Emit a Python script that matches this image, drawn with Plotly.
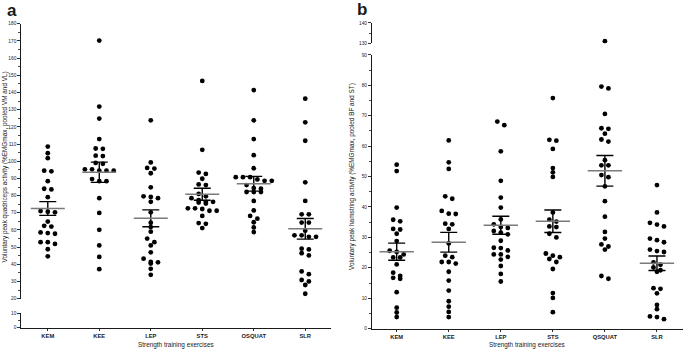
import plotly.graph_objects as go

# ---------------- data ----------------
categories_a = ["KEM", "KEE", "LEP", "STS", "OSQUAT", "SLR"]
categories_b = ["KEM", "KEE", "LEP", "STS", "QSQUAT", "SLR"]

# Panel a: voluntary peak quadriceps activity (%EMGmax)
quad_kem = [108.5, 104.7, 101.8, 94.1, 94.5, 88.4, 83.6, 84.0, 79.1, 70.3, 71.0, 70.6,
            64.9, 62.0, 62.4, 57.8, 58.6, 58.2, 51.9, 52.9, 52.9, 48.8, 44.7]
quad_kee = [170.2, 131.8, 124.8, 112.9, 107.2, 107.4, 103.0, 103.2, 98.5, 99.0, 94.5, 95.3,
            94.5, 95.3, 94.5, 89.6, 88.4, 88.4, 78.5, 69.9, 60.1, 51.0, 44.3, 37.2]
quad_lep = [123.8, 99.3, 95.7, 96.1, 93.0, 84.8, 78.5, 79.6, 79.2, 76.4, 70.3, 64.2,
            61.7, 59.0, 55.0, 52.9, 51.0, 47.0, 40.5, 41.4, 43.3, 41.2, 37.4, 33.9]
quad_sts = [146.7, 106.6, 92.6, 93.4, 89.8, 86.1, 86.5, 81.0, 79.6, 78.5, 77.3, 76.4,
            76.4, 75.4, 76.0, 72.2, 72.6, 72.6, 71.2, 71.2, 68.2, 64.0, 63.6, 61.1]
quad_osquat = [141.4, 123.8, 112.9, 103.5, 95.9, 88.6, 90.7, 89.4, 90.7, 88.6, 90.7, 86.1,
               84.0, 84.4, 82.1, 82.1, 82.1, 76.9, 71.4, 66.6, 68.2, 64.5, 61.5, 58.8]
quad_slr = [136.4, 122.6, 111.9, 87.7, 76.9, 69.1, 69.1, 64.3, 64.3, 59.6, 56.9, 56.9,
            56.0, 56.0, 48.7, 49.1, 45.2, 46.5, 34.3, 35.9, 30.1, 30.9, 28.0, 22.9]
quad_mean = [72.5, 93.6, 66.8, 80.8, 86.9, 60.7]
quad_sem = [4.0, 5.9, 4.9, 3.5, 4.3, 6.0]

# Panel b: voluntary peak hamstring activity (%EMGmax)
ham_kem = [53.9, 51.8, 39.8, 35.3, 35.8, 32.6, 32.8, 31.2, 28.8, 25.2, 25.6, 24.4,
           23.4, 23.4, 21.1, 16.4, 17.3, 18.4, 16.7, 12.0, 6.9, 5.3, 3.8]
ham_kee = [61.9, 54.7, 52.5, 42.7, 43.5, 38.7, 37.7, 37.8, 34.3, 34.5, 32.8, 28.0,
           23.5, 24.0, 21.4, 21.9, 21.9, 18.7, 15.8, 12.5, 9.0, 7.2, 5.5, 3.8]
ham_lep = [68.1, 66.9, 58.3, 48.6, 43.1, 39.8, 35.9, 34.3, 33.4, 33.1, 31.0, 31.6,
           32.1, 28.9, 26.6, 26.5, 25.7, 24.4, 24.4, 23.6, 22.7, 20.6, 18.0, 15.5]
ham_sts = [75.8, 61.8, 62.1, 59.1, 52.8, 51.4, 49.9, 38.2, 35.8, 35.2, 33.4, 33.6,
           30.0, 31.2, 24.7, 22.9, 24.0, 23.5, 21.9, 19.6, 11.7, 10.1, 5.4]
ham_qsquat = [131.1, 79.0, 79.6, 70.6, 65.7, 65.9, 64.1, 61.5, 62.2, 55.4, 53.7, 53.7,
              49.8, 50.5, 46.8, 41.9, 36.8, 31.8, 29.6, 27.7, 27.0, 26.0, 16.4, 17.3]
ham_slr = [47.2, 38.2, 34.8, 33.6, 34.2, 29.6, 28.4, 29.1, 25.2, 26.0, 25.5, 21.8,
           21.0, 20.1, 18.7, 19.2, 13.1, 13.3, 11.6, 7.8, 6.4, 3.1, 4.0, 3.8]
ham_mean = [25.3, 28.4, 34.0, 35.3, 51.9, 21.5]
ham_sem = [2.8, 3.25, 2.95, 3.7, 5.05, 2.4]

quad_groups = [quad_kem, quad_kee, quad_lep, quad_sts, quad_osquat, quad_slr]
ham_groups = [ham_kem, ham_kee, ham_lep, ham_sts, ham_qsquat, ham_slr]

# ---------------- layout helpers ----------------
W, H = 685, 354
FONT = "Liberation Sans, Arial, sans-serif"
AX = "#1a1a1a"


def fx(px):
    return px / W


def fy(py):
    return (H - py) / H


def swarm(values, px_per_unit, step_units, thresh_px=4.0):
    """Prism-like row layout: points closer than thresh_px vertically share a row."""
    order = sorted(range(len(values)), key=lambda k: -values[k])
    offsets = [0.0] * len(values)
    rows, cur = [], []
    for k in order:
        if cur and (values[cur[0]] - values[k]) * px_per_unit >= thresh_px:
            rows.append(cur)
            cur = []
        cur.append(k)
    if cur:
        rows.append(cur)
    for row in rows:
        n = len(row)
        for j, k in enumerate(row):
            offsets[k] = (j - (n - 1) / 2) * step_units
    return offsets


fig = go.Figure()


def add_points(groups, xaxis, ylow, yup, split, px_unit_low, px_unit_up, step):
    for i, vals in enumerate(groups):
        low = [v for v in vals if v <= split]
        up = [v for v in vals if v > split]
        for sub, ya, ppu in ((low, ylow, px_unit_low), (up, yup, px_unit_up)):
            offs = swarm(sub, ppu, step)
            # an empty trace still registers the broken-axis segment subplot
            fig.add_trace(go.Scatter(
                x=[i + o for o in offs], y=sub, mode="markers",
                marker=dict(size=4.8, color="black"),
                xaxis=xaxis, yaxis=ya, showlegend=False, hoverinfo="y"))


def add_stats(means, sems, xaxis, yaxis):
    n = len(means)
    fig.add_trace(go.Scatter(
        x=list(range(n)), y=means, mode="markers",
        marker=dict(size=1, color="rgba(0,0,0,0)"),
        error_y=dict(type="data", array=sems, visible=True, color="black",
                     thickness=1.4, width=8.5),
        xaxis=xaxis, yaxis=yaxis, showlegend=False, hoverinfo="skip"))
    xs, ys = [], []
    for i, m in enumerate(means):
        xs += [i - 0.33, i + 0.33, None]
        ys += [m, m, None]
    fig.add_trace(go.Scatter(
        x=xs, y=ys, mode="lines", line=dict(color="#7a7a7a", width=1.4),
        xaxis=xaxis, yaxis=yaxis, showlegend=False, hoverinfo="skip"))


# panel a (quadriceps): lower 0-10, upper 20-180
add_points(quad_groups, "x", "y", "y2", 20 - 1e-9, 1.46, 1.744, 7.2 / 51.5)
add_stats(quad_mean, quad_sem, "x", "y2")
# panel b (hamstring): lower 0-90, upper 130-140
add_points(ham_groups, "x2", "y3", "y4", 90, 3.08, 2.07, 7.0 / 52.0)
add_stats(ham_mean, ham_sem, "x2", "y3")

tickfont = dict(family=FONT, size=4.8, color=AX)
minor = dict(ticks="outside", dtick=5, ticklen=1.5, tickwidth=0.8, tickcolor=AX)


def yax(dom, rng, dtick, anchor):
    return dict(domain=dom, range=rng, dtick=dtick, tick0=0, anchor=anchor,
                showline=True, linecolor=AX, linewidth=1.1, ticks="outside",
                ticklen=2.6, tickwidth=0.9, tickcolor=AX, showgrid=False,
                zeroline=False, tickfont=tickfont, minor=minor, fixedrange=True)


def xax(dom, rng, labels, anchor):
    return dict(domain=dom, range=rng, tickvals=list(range(len(labels))),
                ticktext=labels, anchor=anchor, showline=True, linecolor=AX,
                linewidth=1.1, ticks="outside", ticklen=2, tickwidth=0.9,
                tickcolor=AX, showgrid=False, zeroline=False, fixedrange=True,
                tickfont=dict(family=FONT, size=5.8, color=AX, weight="bold"))


fig.update_layout(
    width=W, height=H, margin=dict(l=0, r=0, t=0, b=0),
    paper_bgcolor="white", plot_bgcolor="white", showlegend=False,
    xaxis=xax([fx(21), fx(331)], [-0.52, 5.5], categories_a, "y"),
    xaxis2=xax([fx(371.7), fx(683)], [-0.48, 5.5], categories_b, "y3"),
    yaxis=yax([fy(330.3), fy(315.7)], [0, 10], 10, "x"),
    yaxis2=yax([fy(301), fy(22)], [20, 180], 10, "x"),
    yaxis3=yax([fy(331.3), fy(53.7)], [0, 90], 10, "x2"),
    yaxis4=yax([fy(42), fy(21.3)], [130, 140], 10, "x2"),
)

ann = [
    dict(text="<b>a</b>", x=fx(12), y=fy(9), font=dict(size=17)),
    dict(text="<b>b</b>", x=fx(362), y=fy(8), font=dict(size=17)),
    dict(text="Strength training exercises", x=fx(176), y=fy(347.5), font=dict(size=6.4)),
    dict(text="Strength training exercises", x=fx(527), y=fy(347.5), font=dict(size=6.4)),
    dict(text="Voluntary peak quadriceps activity (%EMGmax, pooled VM and VL)",
         x=fx(4.8), y=fy(167), textangle=-90, font=dict(size=6.4)),
    dict(text="Voluntary peak hamstring activity (%EMGmax, pooled BF and ST)",
         x=fx(351.5), y=fy(177), textangle=-90, font=dict(size=6.4)),
]
for a in ann:
    a["font"].update(family=FONT, color=AX)
    fig.add_annotation(xref="paper", yref="paper", showarrow=False,
                       xanchor="center", yanchor="middle", **a)

fig.write_html("out.html",
               config={"displayModeBar": False, "staticPlot": True},
               post_script="document.body.style.margin='0';"
                           "document.body.style.overflow='hidden';")
